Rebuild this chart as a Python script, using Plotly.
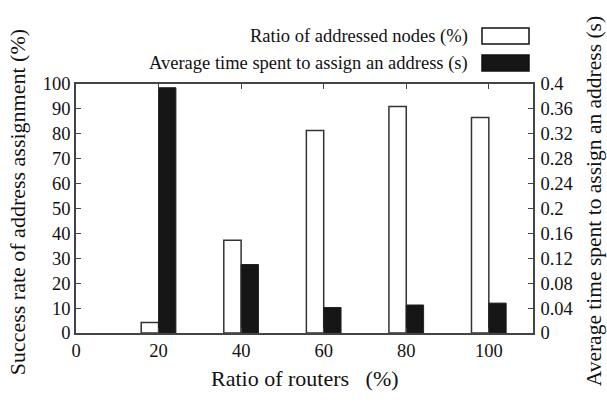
import plotly.graph_objects as go

routers = [20, 40, 60, 80, 100]
addressed_ratio = [4.2, 37.2, 81.3, 91.0, 86.5]
avg_time = [0.394, 0.110, 0.041, 0.045, 0.048]

left_ticks = [0, 10, 20, 30, 40, 50, 60, 70, 80, 90, 100]
right_ticks = [0, 0.04, 0.08, 0.12, 0.16, 0.2, 0.24, 0.28, 0.32, 0.36, 0.4]
right_tick_text = ["0", "0.04", "0.08", "0.12", "0.16", "0.2", "0.24", "0.28", "0.32", "0.36", "0.4"]
x_ticks = [0, 20, 40, 60, 80, 100]

name_ratio = "Ratio of addressed nodes (%)"
name_time = "Average time spent to assign an address (s)"

FONT = "Liberation Serif"
AX = "#444444"
BW = 4.2

fig = go.Figure()
fig.add_trace(go.Bar(
    x=routers, y=addressed_ratio, name=name_ratio,
    width=BW, offset=-BW,
    marker=dict(color="white", line=dict(color="#333333", width=1.5)),
    yaxis="y", showlegend=False,
))
fig.add_trace(go.Bar(
    x=routers, y=avg_time, name=name_time,
    width=BW, offset=0,
    marker=dict(color="#161616", line=dict(color="#222222", width=1)),
    yaxis="y2", showlegend=False,
))

axis_common = dict(
    showgrid=False, zeroline=False, showline=True, linecolor=AX, linewidth=1.5,
    ticks="inside", ticklen=5, tickcolor=AX, tickwidth=1.2,
    tickfont=dict(family=FONT, size=18.5, color="#111111"),
)

fig.update_layout(
    width=607, height=403,
    margin=dict(l=76, r=74, t=84, b=70),
    paper_bgcolor="white", plot_bgcolor="white",
    font=dict(family=FONT, color="#111111"),
    barmode="overlay",
    xaxis=dict(range=[0, 110.7], tickvals=x_ticks, mirror="ticks", **axis_common),
    yaxis=dict(range=[0, 100], tickvals=left_ticks, **axis_common),
    yaxis2=dict(range=[0, 0.4], tickvals=right_ticks, ticktext=right_tick_text,
                overlaying="y", side="right", ticklabelstandoff=2, **axis_common),
)

# axis titles
fig.add_annotation(text="Ratio of routers   (%)", xref="paper", yref="paper",
                   x=0.5, y=-0.181, xanchor="center", yanchor="middle", showarrow=False,
                   font=dict(family=FONT, size=22, color="#111111"))
fig.add_annotation(text="Success rate of address assignment (%)", xref="paper", yref="paper",
                   x=-0.129, y=0.525, xanchor="center", yanchor="middle", textangle=-90,
                   showarrow=False, font=dict(family=FONT, size=22, color="#111111"))
fig.add_annotation(text="Average time spent to assign an address (s)", xref="paper", yref="paper",
                   x=1.134, y=0.53, xanchor="center", yanchor="middle", textangle=-90,
                   showarrow=False, font=dict(family=FONT, size=21.5, color="#111111"))

# custom legend (text left of swatch)
legend_rows = [(name_ratio, "white", 36), (name_time, "#161616", 63)]
for label, fill, yc in legend_rows:
    fig.add_shape(type="rect", xref="paper", yref="paper",
                  x0=(482 - 76) / 457, x1=(529 - 76) / 457,
                  y0=(333 - (yc + 8)) / 249, y1=(333 - (yc - 8)) / 249,
                  fillcolor=fill, line=dict(color="#111111", width=1.5))
    fig.add_annotation(text=label, xref="paper", yref="paper",
                       x=(470 - 76) / 457, y=(333 - yc) / 249,
                       xanchor="right", yanchor="middle", showarrow=False,
                       font=dict(family=FONT, size=18.5, color="#111111"))

fig.write_html("out.html")
